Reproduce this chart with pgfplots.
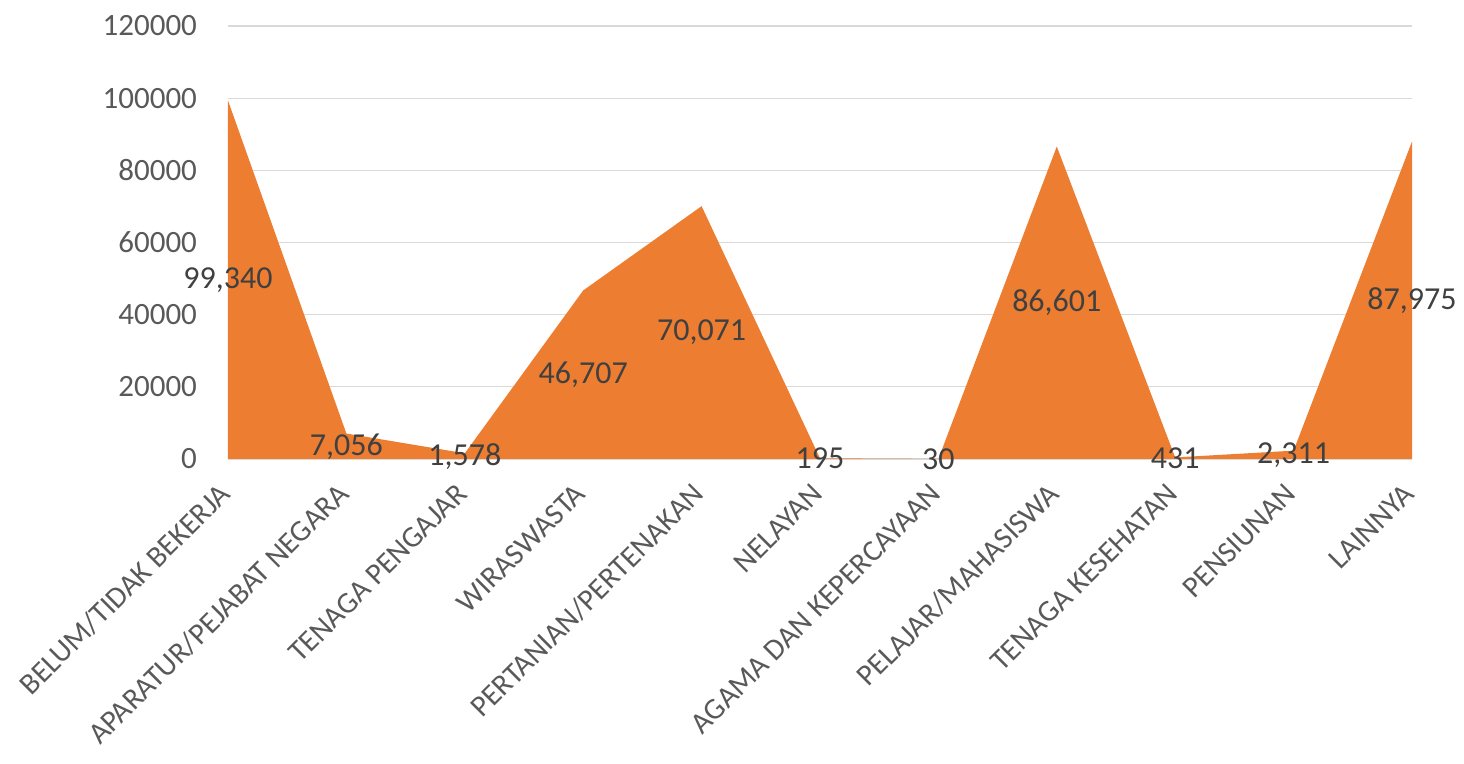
\documentclass[border=0pt]{standalone}
\usepackage{fontspec}
\setmainfont{Carlito}
\usepackage{pgfplots}
\pgfplotsset{compat=1.18}
\usepackage{pgfplotstable}

\definecolor{areaorange}{HTML}{ED7D31}
\definecolor{gridgray}{HTML}{D9D9D9}
\definecolor{ticktext}{HTML}{595959}
\definecolor{labeltext}{HTML}{404040}

\pgfplotsset{/pgf/number format/assume math mode=true}

% jumlah penduduk per pekerjaan
\pgfplotstableread{
idx value
0  99340
1  7056
2  1578
3  46707
4  70071
5  195
6  30
7  86601
8  431
9  2311
10 87975
}\jobs

\begin{document}
\begin{tikzpicture}
\begin{axis}[
    name=ax,
    scale only axis,
    width=592pt, height=216.5pt,
    xmin=0, xmax=10,
    ymin=0, ymax=120000,
    ytick={0,20000,...,120000},
    scaled y ticks=false,
    yticklabel style={/pgf/number format/fixed, /pgf/number format/1000 sep={}, xshift=-12pt},
    ymajorgrids=true,
    grid style={gridgray, line width=0.6pt},
    axis line style={draw=none},
    major tick length=0pt,
    xtick={0,...,10},
    xticklabels={BELUM/TIDAK BEKERJA, APARATUR/PEJABAT NEGARA, TENAGA PENGAJAR,
        WIRASWASTA, PERTANIAN/PERTENAKAN, NELAYAN, AGAMA DAN KEPERCAYAAN,
        PELAJAR/MAHASISWA, TENAGA KESEHATAN, PENSIUNAN, LAINNYA},
    xticklabel style={xshift=1pt, yshift=-12.5pt, rotate=45, anchor=east,
        font=\fontsize{15}{18}\selectfont},
    yticklabel style={font=\fontsize{15.5}{18}\selectfont},
    tick label style={text=ticktext},
    clip=false,
]

    % area
    \addplot[fill=areaorange, draw=none] table[x=idx, y=value]{\jobs} \closedcycle;

    % data labels, placed at half height like Excel
    \addplot[draw=none, mark=none,
        nodes near coords,
        point meta=explicit,
        nodes near coords style={anchor=center, font=\fontsize{16}{18}\selectfont,
            text=labeltext, /pgf/number format/fixed, /pgf/number format/precision=0,
            /pgf/number format/1000 sep={,}},
    ] table[x=idx, y expr=\thisrow{value}/2, meta=value]{\jobs};

\end{axis}
\pgfresetboundingbox
\path[use as bounding box] ([shift={(-114pt,-152.5pt)}]ax.south west) rectangle ++(732pt,382pt);
\end{tikzpicture}
\end{document}
